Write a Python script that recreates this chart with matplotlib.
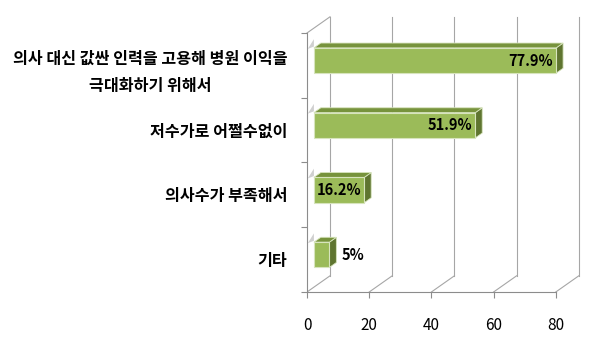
import matplotlib
matplotlib.use("Agg")
import matplotlib.pyplot as plt
from matplotlib.patches import Polygon

plt.rcParams['font.family'] = ['Noto Sans CJK KR', 'DejaVu Sans']

# data, top to bottom as drawn
categories = ['의사 대신 값싼 인력을 고용해 병원 이익을\n극대화하기 위해서',
              '저수가로 어쩔수없이',
              '의사수가 부족해서',
              '기타']
values = [77.9, 51.9, 16.2, 5]
value_labels = ['77.9%', '51.9%', '16.2%', '5%']
xticks = [0, 20, 40, 60, 80]

# pseudo 3d geometry in data units
DX = 7.4      # depth shift along x
DY = 0.25     # depth shift along y
BAR_H = 0.39
D0, D1 = 0.3, 0.6   # bar front / back depth fraction

FRONT = '#9BBB59'
TOP = '#77933C'
SIDE = '#5F7530'
EDGE = '#D7E4BD'
GRID = '#A6A6A6'
AXIS = '#8C8C8C'

fig = plt.figure(figsize=(6.01, 3.57), dpi=100)
ax = fig.add_axes([307 / 601, 65 / 357, 283 / 601, 282 / 357])
ax.set_xlim(0, 91)
ax.set_ylim(0, 4.355)

n = len(categories)
centers = [n - 0.5 - i for i in range(n)]

# back wall grid + floor diagonals
for x in xticks:
    ax.plot([x + DX, x + DX], [DY, n + DY], color=GRID, lw=0.8, zorder=1)
    ax.plot([x, x + DX], [0, DY], color=GRID, lw=0.8, zorder=1)
ax.plot([0, DX], [n, n + DY], color=GRID, lw=0.8, zorder=1, clip_on=False)

# bars
for c, v in zip(centers, values):
    y0 = c - BAR_H / 2
    y1 = c + BAR_H / 2
    fx0, fy0 = D0 * DX, D0 * DY
    bx, by = D1 * DX, D1 * DY
    side = [(v + fx0, y0 + fy0), (v + bx, y0 + by), (v + bx, y1 + by), (v + fx0, y1 + fy0)]
    top = [(fx0, y1 + fy0), (bx, y1 + by), (v + bx, y1 + by), (v + fx0, y1 + fy0)]
    # faint wall shadow where the bar meets the left wall
    shade = [(0, y1 + fy0 - 0.02), (fx0, y1 + fy0 + 0.02), (fx0, y1 + by + 0.06), (0, y1 + 0.04)]
    ax.add_patch(Polygon(shade, closed=True, facecolor='#D0D0D0', edgecolor='none', zorder=2))
    ax.add_patch(Polygon(side, closed=True, facecolor=SIDE, edgecolor=EDGE, lw=0.6, zorder=3))
    ax.add_patch(Polygon(top, closed=True, facecolor=TOP, edgecolor=EDGE, lw=0.6, zorder=3))
    ax.barh(c + fy0, v, height=BAR_H, left=fx0, color=FRONT, edgecolor=EDGE, lw=0.8, zorder=4)

for c, v, lab in zip(centers, values, value_labels):
    yy = c + D0 * DY
    if v > 10:
        ax.text(v + D0 * DX - 0.9, yy, lab, ha='right', va='center',
                fontsize=10.5, fontweight='bold', zorder=5)
    else:
        ax.text(v + D1 * DX + 1.6, yy, lab, ha='left', va='center',
                fontsize=10.5, fontweight='bold', zorder=5)

# axes
for s in ['top', 'right']:
    ax.spines[s].set_visible(False)
ax.spines['left'].set_bounds(0, n)
ax.spines['bottom'].set_bounds(0, 80)
for s in ['left', 'bottom']:
    ax.spines[s].set_color(AXIS)
    ax.spines[s].set_linewidth(0.8)

ax.set_xticks(xticks)
ax.set_xticklabels([str(t) for t in xticks], fontsize=11)
ax.tick_params(axis='x', length=4, width=0.8, color=AXIS, pad=14)

ax.set_yticks(range(n + 1))
ax.set_yticklabels([])
ax.tick_params(axis='y', which='major', length=4, width=0.8, color=AXIS)
ax.set_yticks(centers, minor=True)
ax.set_yticklabels(categories, minor=True, fontsize=11.6, fontweight='bold',
                   linespacing=1.85, ha='right')
for lbl in ax.get_yticklabels(minor=True):
    lbl.set_multialignment('center')
ax.tick_params(axis='y', which='minor', length=0, pad=14)

fig.savefig('out.png', dpi=100)
